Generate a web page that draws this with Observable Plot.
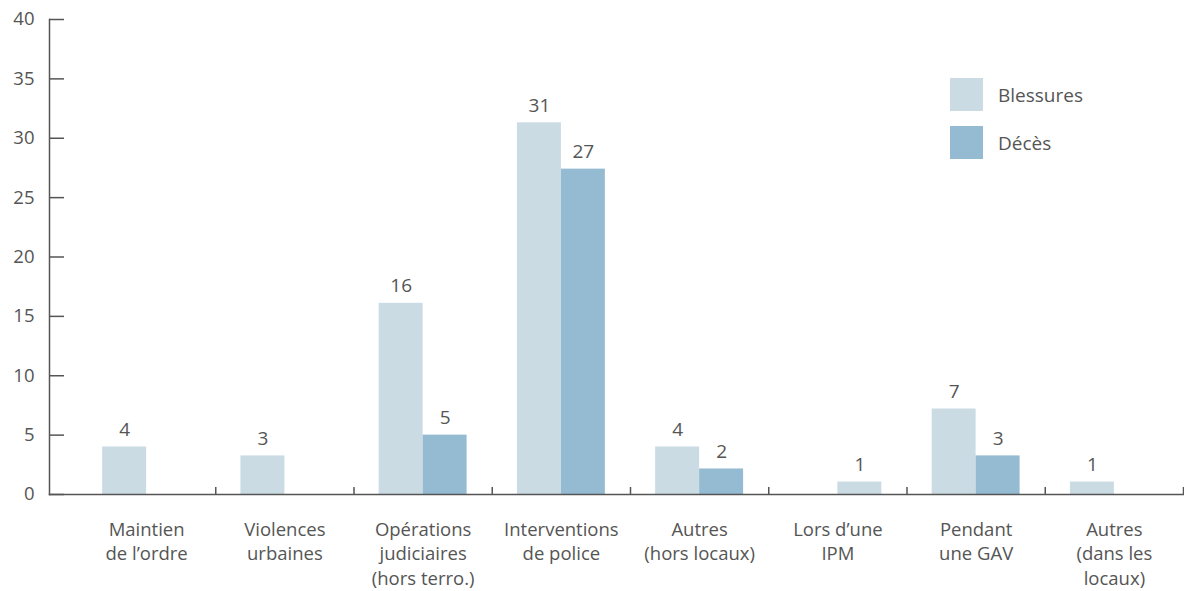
<!DOCTYPE html>
<html>
<head>
<meta charset="utf-8">
<script src="https://cdn.jsdelivr.net/npm/d3@7"></script>
<script src="https://cdn.jsdelivr.net/npm/@observablehq/plot@0.6"></script>
<style>
  body { margin: 0; background: #fff; }
  #wrap { position: relative; width: 1184px; height: 591px; }
  #legend { position: absolute; left: 950px; top: 78px; font-family: "Open Sans", sans-serif; font-size: 19px; color: #555; }
  .item { display: flex; align-items: center; height: 33px; margin-bottom: 15px; }
  .sw { width: 33px; height: 33px; margin-right: 15px; }
</style>
</head>
<body>
<div id="wrap"><div id="legend"></div></div>
<script>
// ---- data ----
const categories = ["Maintien de l’ordre", "Violences urbaines", "Opérations judiciaires (hors terro.)", "Interventions de police", "Autres (hors locaux)", "Lors d’une IPM", "Pendant une GAV", "Autres (dans les locaux)"];
const categoryLabels = ["Maintien\nde l’ordre", "Violences\nurbaines", "Opérations\njudiciaires\n(hors terro.)", "Interventions\nde police", "Autres\n(hors locaux)", "Lors d’une\nIPM", "Pendant\nune GAV", "Autres\n(dans les\nlocaux)"];
const series = ["Blessures", "Décès"];
const blessures = [4, 3.25, 16.1, 31.3, 4, 1.05, 7.2, 1.05];
const deces = [null, null, 5, 27.4, 2.15, null, 3.25, null];
const yTicks = [0, 5, 10, 15, 20, 25, 30, 35, 40];
// in the original, the single IPM bar sits in the right-hand slot
const rightSlotBlessures = ["Lors d’une IPM"];

// ---- build rows ----
const rows = [];
categories.forEach((cat, i) => {
  [[series[0], blessures[i]], [series[1], deces[i]]].forEach(([s, v]) => {
    if (v == null) return;
    const slot = (s === series[0] && !rightSlotBlessures.includes(cat)) ? 0 : 1;
    rows.push({i, cat, series: s, value: v, slot});
  });
});

const colors = ["#cadbe3", "#94bbd1"];
const ink = "#555555";
const W = 1184, H = 591;
const mL = 49, mR = 1, mT = 19, mB = 97;
const barFrac = 0.318; // bar width as fraction of category band
const fmt = d3.format(".0f");

const chart = Plot.plot({
  width: W,
  height: H,
  marginLeft: mL,
  marginRight: mR,
  marginTop: mT,
  marginBottom: mB,
  style: {fontFamily: "'Open Sans', sans-serif", fontSize: "18.5px", color: ink, background: "white", overflow: "visible"},
  x: {type: "linear", domain: [0, categories.length], range: [77, W - mR], axis: null},
  y: {domain: [0, 40], axis: null},
  color: {domain: series, range: colors},
  marks: [
    Plot.rect(rows, {
      x1: d => d.i + 0.5 + (d.slot === 0 ? -barFrac : 0),
      x2: d => d.i + 0.5 + (d.slot === 0 ? 0 : barFrac),
      y1: 0,
      y2: "value",
      fill: "series"
    }),
    Plot.text(rows, {
      x: d => d.i + 0.5 + (d.slot === 0 ? -barFrac / 2 : barFrac / 2),
      y: "value",
      text: d => fmt(d.value),
      lineAnchor: "bottom",
      dy: -11,
      fill: ink,
      fontSize: 19
    }),
    Plot.text(categoryLabels, {
      x: (d, i) => i + 0.5,
      y: 0,
      text: d => d,
      lineAnchor: "top",
      lineHeight: 1.32,
      dy: 24,
      fill: ink
    }),
    Plot.axisY({ticks: yTicks, tickSize: 0, tickPadding: 15, fill: ink, fontSize: 18.5, label: null}),
    Plot.ruleY(yTicks, {y: d => d, stroke: ink, strokeWidth: 1.5, insetRight: W - mR - mL - 15}),
    Plot.ruleX(d3.range(1, categories.length + 1), {x: d => d, y1: 0, y2: 0, insetBottom: 7, stroke: ink, strokeWidth: 1.5}),
    Plot.frame({anchor: "left", stroke: ink, strokeWidth: 1.5}),
    Plot.frame({anchor: "bottom", stroke: ink, strokeWidth: 1.5})
  ]
});

const wrap = document.getElementById("wrap");
wrap.insertBefore(chart, wrap.firstChild);

const legend = document.getElementById("legend");
series.forEach((s, k) => {
  const item = document.createElement("div");
  item.className = "item";
  item.innerHTML = `<div class="sw" style="background:${colors[k]}"></div><span>${s}</span>`;
  legend.appendChild(item);
});
</script>
</body>
</html>
